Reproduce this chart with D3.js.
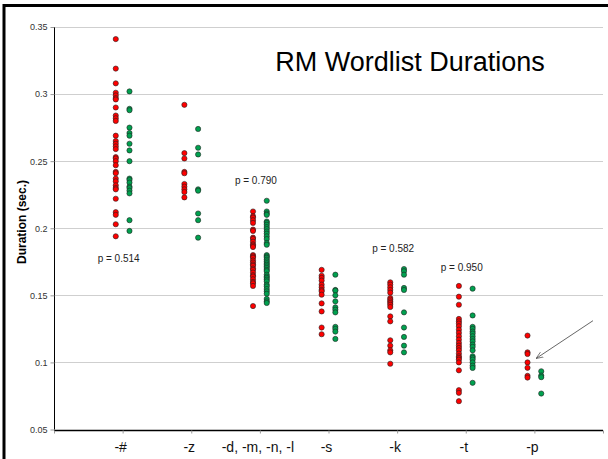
<!DOCTYPE html>
<html>
<head>
<meta charset="utf-8">
<script src="https://cdn.jsdelivr.net/npm/d3@7"></script>
<style>
  body { margin: 0; background: #fff; }
  svg { font-family: "Liberation Sans", Arial, sans-serif; display: block; }
</style>
</head>
<body>
<script>
// word-final categories
let categories = ['-#', '-z', '-d, -m, -n, -l', '-s', '-k', '-t', '-p']

// durations (sec.), red series per category
let redValues = [
    [0.341, 0.319, 0.308, 0.301, 0.299, 0.297, 0.296, 0.290, 0.284, 0.282, 0.280, 0.269, 0.265, 0.263, 0.261, 0.259,
     0.253, 0.252, 0.250, 0.247, 0.242, 0.241, 0.237, 0.235, 0.232, 0.230, 0.229, 0.222, 0.212, 0.210, 0.203, 0.194],
    [0.292, 0.256, 0.252, 0.242, 0.241, 0.233, 0.231, 0.229, 0.227, 0.223],
    [0.2125, 0.209, 0.208, 0.206, 0.204, 0.199, 0.198, 0.193, 0.192, 0.190, 0.188, 0.187, 0.186, 0.180, 0.179, 0.178,
     0.176, 0.1745, 0.173, 0.172, 0.170, 0.169, 0.167, 0.165, 0.164, 0.162, 0.160, 0.159, 0.157, 0.142],
    [0.169, 0.1646, 0.163, 0.161, 0.158, 0.156, 0.154, 0.153, 0.1505, 0.144, 0.138, 0.126, 0.121],
    [0.1597, 0.158, 0.156, 0.154, 0.152, 0.148, 0.1468, 0.1455, 0.1443, 0.143, 0.1413, 0.1343, 0.1306, 0.1165, 0.1125,
     0.109, 0.1075, 0.099],
    [0.157, 0.149, 0.143, 0.1324, 0.1306, 0.129, 0.127, 0.1244, 0.122, 0.1195, 0.117, 0.1145, 0.1125, 0.1108, 0.109,
     0.1066, 0.1046, 0.1034, 0.1021, 0.100, 0.0941, 0.0793, 0.0773, 0.0711],
    [0.120, 0.1075, 0.1063, 0.100, 0.096, 0.090, 0.0887]
]

// green series per category
let greenValues = [
    [0.302, 0.289, 0.288, 0.275, 0.271, 0.269, 0.263, 0.258, 0.250, 0.237, 0.236, 0.234, 0.231, 0.230, 0.228, 0.226,
     0.206, 0.198],
    [0.274, 0.260, 0.255, 0.229, 0.228, 0.211, 0.206, 0.193],
    [0.2205, 0.2125, 0.211, 0.210, 0.205, 0.204, 0.2026, 0.2009, 0.1994, 0.1976, 0.196, 0.194, 0.192, 0.189, 0.1877,
     0.180, 0.179, 0.178, 0.1766, 0.1753, 0.174, 0.1728, 0.1716, 0.1704, 0.169, 0.168, 0.1654, 0.164, 0.163, 0.1617,
     0.1604, 0.158, 0.1567, 0.1547, 0.153, 0.1512, 0.1473, 0.1455, 0.1443],
    [0.1654, 0.154, 0.1535, 0.150, 0.1455, 0.141, 0.1393, 0.1373, 0.1265, 0.125, 0.123, 0.1175],
    [0.1696, 0.168, 0.1654, 0.1555, 0.154, 0.1373, 0.126, 0.119, 0.1125, 0.1075],
    [0.155, 0.135, 0.1265, 0.125, 0.123, 0.1215, 0.1195, 0.1175, 0.1157, 0.1133, 0.1116, 0.109, 0.1046, 0.1034,
     0.1021, 0.100, 0.0976, 0.0959, 0.0848],
    [0.0934, 0.0902, 0.089, 0.0768]
]

let yTicks = [0.05, 0.1, 0.15, 0.2, 0.25, 0.3, 0.35]

// p values shown above some categories
let pCategory = [0, 2, 4, 5]
let pText = ['p = 0.514', 'p = 0.790', 'p = 0.582', 'p = 0.950']

var width = 608, height = 459
var margin = { top: 27, right: 5, bottom: 29, left: 54 }

var svg = d3.select('body').append('svg')
    .attr('width', width)
    .attr('height', height)

var x = d3.scaleLinear()
    .domain([0, 8])
    .range([margin.left, width - margin.right])

var y = d3.scaleLinear()
    .domain([0.05, 0.35])
    .range([height - margin.bottom - 0.5, margin.top])

// gridlines
svg.append('g')
    .selectAll('line')
    .data(yTicks.slice(1))
    .enter()
    .append('line')
    .attr('x1', x(0))
    .attr('x2', x(8))
    .attr('y1', d => Math.round(y(d)) + 0.5)
    .attr('y2', d => Math.round(y(d)) + 0.5)
    .attr('stroke', '#cfcfcf')

// y axis
var yAxis = d3.axisLeft(y)
    .tickValues(yTicks)
    .tickFormat(d3.format('~g'))
    .tickSize(4)
    .tickPadding(3)

var gy = svg.append('g')
    .attr('transform', 'translate(' + (x(0) + 0.5) + ',0)')
    .call(yAxis)
gy.select('.domain').attr('stroke', '#000').attr('d', 'M0,' + y(0.35) + 'V' + y(0.05))
gy.selectAll('.tick line').attr('stroke', '#999')
gy.selectAll('.tick text')
    .attr('font-size', 9)
    .attr('fill', '#333')
    .attr('font-family', null)

// x axis, ticks on integer positions
var xAxis = d3.axisBottom(x)
    .tickValues(d3.range(0, 9))
    .tickSize(3)
    .tickFormat('')

var gx = svg.append('g')
    .attr('transform', 'translate(0,' + (Math.round(y(0.05)) + 0.5) + ')')
    .call(xAxis)
gx.select('.domain').attr('stroke', '#000').attr('stroke-width', 1.3).attr('d', 'M' + x(0) + ',0H' + x(8))
gx.selectAll('.tick line').attr('stroke', '#999')

// category labels
svg.append('g')
    .selectAll('text')
    .data(categories)
    .enter()
    .append('text')
    .attr('x', (d, i) => x(i + 1) - 2)
    .attr('y', 452)
    .attr('text-anchor', 'middle')
    .attr('font-size', 14)
    .attr('fill', '#111')
    .text(d => d)

// dots
function drawSeries(values, offset, color) {
    let pts = []
    values.forEach((arr, i) => arr.forEach(v => pts.push({ c: i + 1, v: v })))
    svg.append('g')
        .selectAll('circle')
        .data(pts)
        .enter()
        .append('circle')
        .attr('cx', d => x(d.c + offset))
        .attr('cy', d => y(d.v))
        .attr('r', 2.6)
        .attr('fill', color)
        .attr('stroke', '#222')
        .attr('stroke-width', 0.6)
}
drawSeries(redValues, -0.1, '#ff0000')
drawSeries(greenValues, 0.1, '#00a14f')

// p value labels
let pY = [0.175, 0.2327, 0.182, 0.168]
svg.append('g')
    .selectAll('text')
    .data(pText)
    .enter()
    .append('text')
    .attr('x', (d, i) => x(pCategory[i] + 1) - 4)
    .attr('y', (d, i) => y(pY[i]))
    .attr('text-anchor', 'middle')
    .attr('font-size', 10)
    .attr('fill', '#222')
    .text(d => d)

// title
svg.append('text')
    .attr('x', 410)
    .attr('y', 71)
    .attr('text-anchor', 'middle')
    .attr('font-size', 27)
    .attr('fill', '#000')
    .text('RM Wordlist Durations')

// y axis title
svg.append('text')
    .attr('transform', 'translate(26,' + 222 + ') rotate(-90)')
    .attr('text-anchor', 'middle')
    .attr('font-size', 12)
    .attr('font-weight', 'bold')
    .attr('fill', '#000')
    .text('Duration (sec.)')

// arrow pointing at the -p dots
svg.append('defs').append('marker')
    .attr('id', 'arrow')
    .attr('viewBox', '0 0 10 10')
    .attr('refX', 10).attr('refY', 5)
    .attr('markerWidth', 8).attr('markerHeight', 8)
    .attr('orient', 'auto')
    .append('path')
    .attr('d', 'M0,1 L10,5 L0,9')
    .attr('fill', 'none')
    .attr('stroke', '#555')
    .attr('stroke-width', 1)

svg.append('line')
    .attr('x1', x(7.854)).attr('y1', y(0.1311))
    .attr('x2', x(7.024)).attr('y2', y(0.1029))
    .attr('stroke', '#555')
    .attr('stroke-width', 0.9)
    .attr('marker-end', 'url(#arrow)')

// outer frame
svg.append('rect')
    .attr('x', 4).attr('y', 5.5)
    .attr('width', 700).attr('height', 600)
    .attr('fill', 'none')
    .attr('stroke', '#000')
    .attr('stroke-width', 3)
</script>
</body>
</html>
